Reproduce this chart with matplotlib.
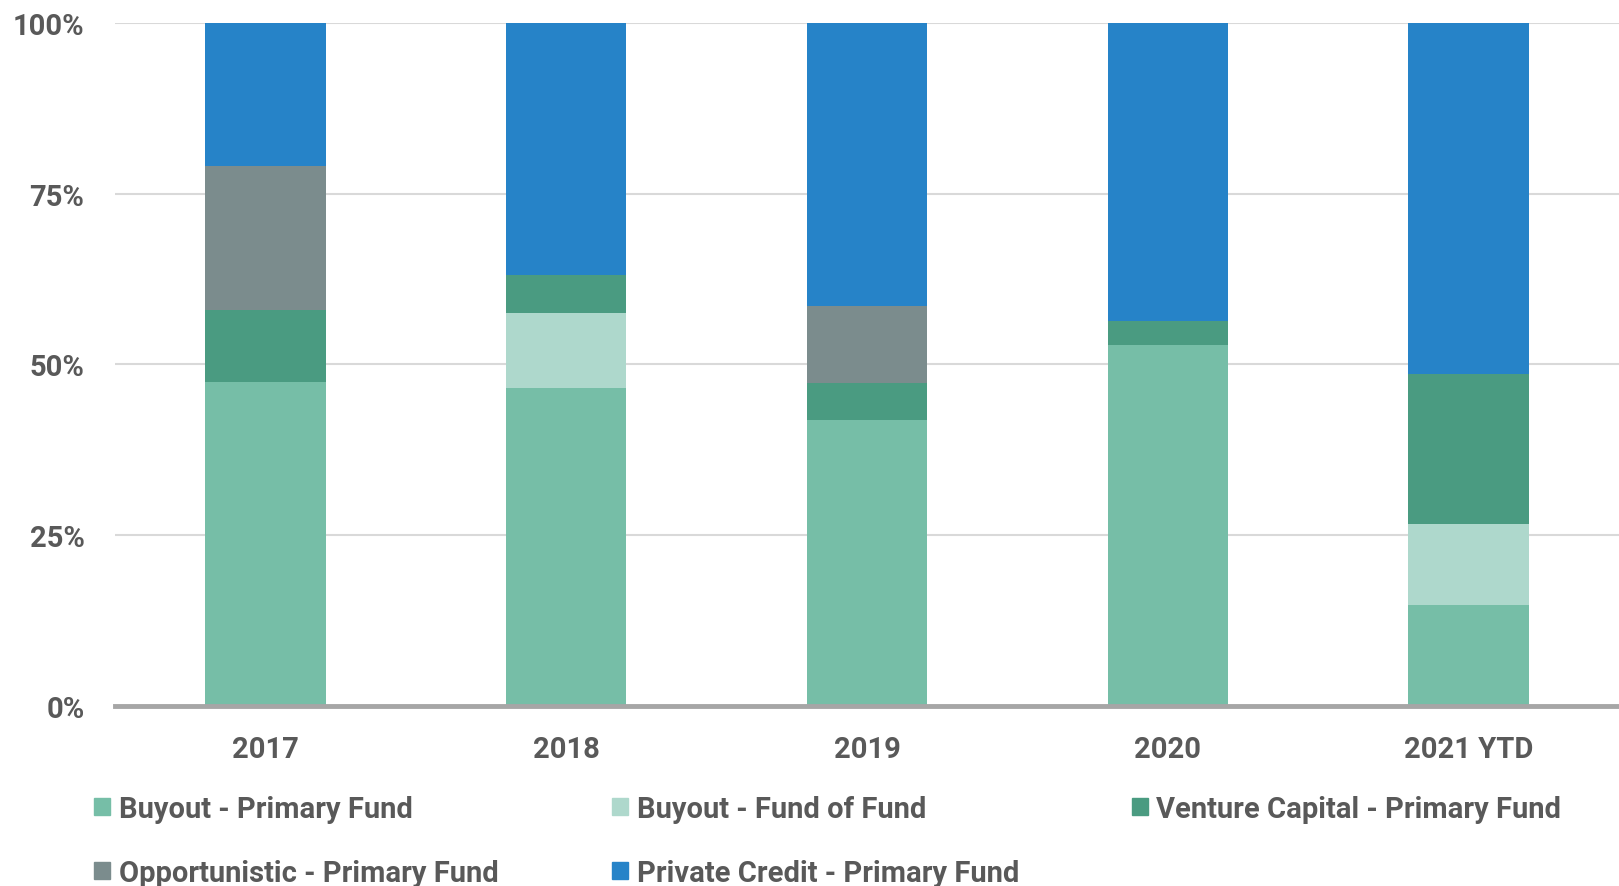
import numpy as np
import matplotlib.pyplot as plt
from matplotlib.patches import Patch
from matplotlib.ticker import FuncFormatter

plt.rcParams['font.family'] = ['Roboto', 'DejaVu Sans']
plt.rcParams['font.weight'] = 'bold'

years = ['2017', '2018', '2019', '2020', '2021 YTD']
buyout_primary = [47.4, 46.5, 41.8, 52.9, 14.8]
buyout_fof     = [0.0, 11.1, 0.0, 0.0, 11.8]
venture        = [10.6, 5.5, 5.5, 3.4, 22.0]
opportunistic  = [21.0, 0.0, 11.2, 0.0, 0.0]
private_credit = [21.0, 36.9, 41.5, 43.7, 51.4]

series = [
    ('Buyout - Primary Fund', buyout_primary, '#76BEA7'),
    ('Buyout - Fund of Fund', buyout_fof, '#AED8CC'),
    ('Venture Capital - Primary Fund', venture, '#4A9B81'),
    ('Opportunistic - Primary Fund', opportunistic, '#7B8C8D'),
    ('Private Credit - Primary Fund', private_credit, '#2683C8'),
]
# legend slot (figure fraction, centre-left) for each series, row by row
leg_pos = [(0.058, 0.087), (0.378, 0.087), (0.699, 0.087),
           (0.058, 0.015), (0.378, 0.015)]

txt = '#595959'
fig = plt.figure(figsize=(16.19, 8.87), dpi=100)
ax = fig.add_axes([0.071, 0.203, 0.929, 0.770])

x = np.arange(len(years))
bottom = np.zeros(len(years))
for (name, vals, col), pos in zip(series, leg_pos):
    v = np.array(vals)
    ax.bar(x, v, 0.40, bottom=bottom, color=col, zorder=3)
    bottom += v
    fig.legend(handles=[Patch(color=col, label=name)], loc='center left',
               bbox_to_anchor=pos, frameon=False, fontsize=21,
               handlelength=0.55, handleheight=0.55, handletextpad=0.3,
               borderaxespad=0, borderpad=0, labelcolor=txt)

ax.set_xlim(-0.5, 4.5)
ax.set_ylim(0, 100)
ax.set_yticks([0, 25, 50, 75, 100])
ax.yaxis.set_major_formatter(FuncFormatter(lambda v, p: f'{int(v)}%'))
ax.grid(axis='y', color='#D9D9D9', lw=1.5, zorder=0)
ax.axhline(0, color='#A6A6A6', lw=3.5, zorder=4, clip_on=False)
for s in ax.spines.values():
    s.set_visible(False)
ax.tick_params(length=0, labelsize=21, labelcolor=txt)
ax.tick_params(axis='x', pad=21)
ax.tick_params(axis='y', pad=22)
ax.set_xticks(x)
ax.set_xticklabels(years)

fig.savefig('out.png', dpi=100)
